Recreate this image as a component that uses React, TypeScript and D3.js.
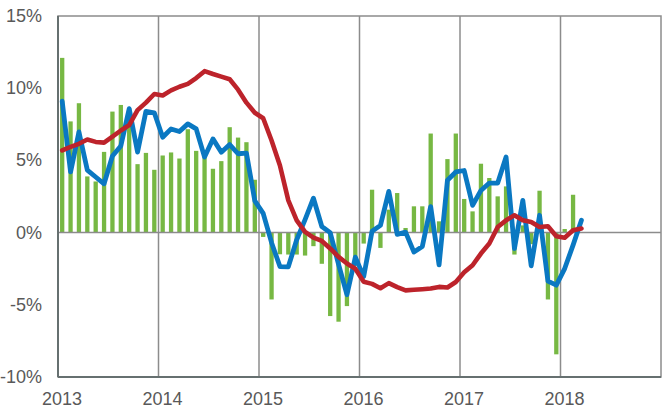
import React from "react";
import * as d3 from "d3";

const years = [2013, 2014, 2015, 2016, 2017, 2018];
const yTicks = [15, 10, 5, 0, -5, -10];

const barValues = [
  12.1, 7.7, 8.96, 3.89, 3.54, 5.59, 8.38, 8.84, 8.6, 4.74, 5.52, 4.35,
  5.34, 5.55, 5.13, 7.16, 5.66, 5.5, 4.42, 4.95, 7.3, 6.58, 6.26, 3.66,
  -0.3, -4.63, -1.5, -1.52, -1.52, -1.59, -0.94, -2.16, -5.78, -6.17, -5.09, -2.3,
  -0.76, 2.97, -1.06, 1.59, 2.74, 0.32, 1.82, 1.82, 6.86, 0.78, 5.09, 6.86,
  2.33, 1.47, 4.77, 3.78, 2.51, 3.2, -1.52, 0.5, -0.8, 2.9, -4.63, -8.43,
  0.25, 2.62,
];

const blueValues = [
  9.1, 4.2, 6.97, 4.33, 3.85, 3.38, 5.3, 6.0, 8.58, 5.58, 8.4, 8.3,
  6.6, 7.18, 7.0, 7.53, 7.18, 5.23, 6.49, 5.57, 6.1, 5.46, 5.5, 2.2,
  1.33, -0.7, -2.35, -2.37, -0.5, 0.9, 2.38, 0.42, 0.0, -2.2, -4.3, -1.7,
  -3.05, 0.1, 0.5, 2.85, -0.12, 0.03, -1.35, -0.97, 1.8, -2.24, 3.63, 4.2,
  4.3, 1.89, 2.92, 3.43, 3.43, 5.23, -1.1, 2.23, -2.3, 1.2, -3.36, -3.64,
  -2.49, -0.87, 0.85,
];

const redValues = [
  5.7, 5.94, 6.15, 6.45, 6.28, 6.23, 6.65, 7.07, 7.44, 8.48, 9.0, 9.6,
  9.5, 9.85, 10.1, 10.3, 10.7, 11.18, 10.98, 10.8, 10.62, 9.9, 9.0, 8.3,
  7.92, 6.38, 4.65, 2.23, 0.85, 0.05, -0.35, -0.58, -1.1, -1.68, -2.14, -2.5,
  -3.4, -3.55, -3.85, -3.5, -3.78, -4.0, -3.96, -3.92, -3.87, -3.76, -3.8, -3.42,
  -2.75, -2.26, -1.45, -0.76, 0.39, 0.85, 1.2, 0.85, 0.74, 0.39, 0.44, -0.25,
  -0.35, 0.16, 0.28,
];

const W = 671;
const H = 411;
const left = 58;
const right = 661;
const top = 16;
const bottom = 377;

export default function App() {
  const x = d3.scaleLinear().domain([2013, 2019]).range([left, right]);
  const y = d3.scaleLinear().domain([-10, 15]).range([bottom, top]);
  const xm = (i: number) => x(2013 + (i + 0.5) / 12);
  const barW = 4.3;

  const line = d3
    .line<number>()
    .x((_, i) => xm(i))
    .y((d) => y(d));

  const textColor = "#595959";
  const font = "'Liberation Sans', Arial, sans-serif";

  return (
    <svg
      width={W}
      height={H}
      style={{ position: "absolute", left: 0, top: 0, background: "#fff" }}
    >
      {/* frame top/right */}
      <rect x={left} y={top} width={right - left} height={bottom - top} fill="none" stroke="#8c8c8c" strokeWidth={1.5} />
      {/* vertical year grid */}
      {years.slice(1).map((yr) => (
        <line key={yr} x1={x(yr)} x2={x(yr)} y1={top} y2={bottom} stroke="#8c8c8c" strokeWidth={1.5} />
      ))}
      {/* bars */}
      {barValues.map((v, i) => (
        <rect
          key={i}
          x={xm(i) - barW / 2}
          y={Math.min(y(v), y(0))}
          width={barW}
          height={Math.abs(y(v) - y(0))}
          fill="#77b843"
        />
      ))}
      {/* zero line */}
      <line x1={left} x2={right} y1={y(0)} y2={y(0)} stroke="#8c8c8c" strokeWidth={1.5} />
      {/* blue line */}
      <path d={line(blueValues) || ""} fill="none" stroke="#0a78c2" strokeWidth={4.8} strokeLinejoin="round" strokeLinecap="round" />
      {/* red line */}
      <path d={line(redValues) || ""} fill="none" stroke="#bd232b" strokeWidth={4.6} strokeLinejoin="round" strokeLinecap="round" />
      {/* left & bottom axes */}
      <line x1={left} x2={left} y1={top} y2={bottom} stroke="#667070" strokeWidth={2} />
      <line x1={left} x2={right} y1={bottom} y2={bottom} stroke="#667070" strokeWidth={2} />
      {/* y labels */}
      {yTicks.map((t) => (
        <text
          key={t}
          x={42}
          y={y(t)}
          textAnchor="end"
          dominantBaseline="central"
          fontFamily={font}
          fontSize={18}
          fill={textColor}
        >
          {t + "%"}
        </text>
      ))}
      {/* x labels */}
      {years.map((yr) => (
        <text
          key={yr}
          x={x(yr) + 4}
          y={405}
          textAnchor="middle"
          fontFamily={font}
          fontSize={18}
          fill={textColor}
        >
          {yr}
        </text>
      ))}
    </svg>
  );
}
